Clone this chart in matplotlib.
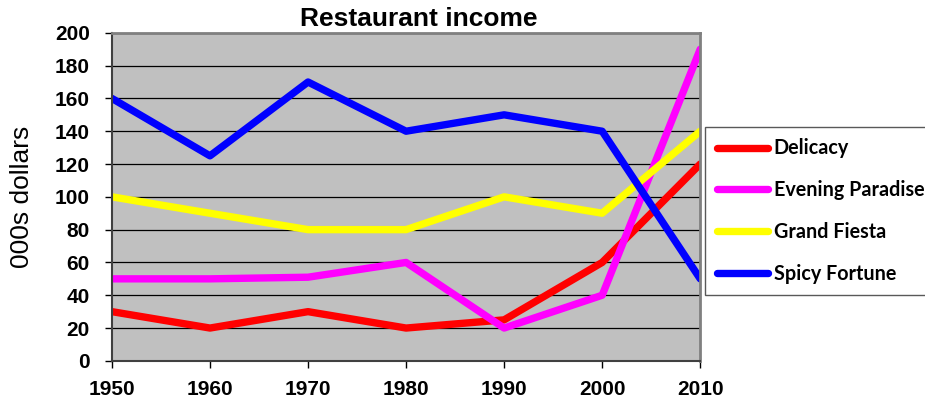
import matplotlib
matplotlib.use("Agg")
import matplotlib.pyplot as plt

years = [1950, 1960, 1970, 1980, 1990, 2000, 2010]
delicacy = [30, 20, 30, 20, 25, 60, 120]
evening_paradise = [50, 50, 51, 60, 20, 40, 190]
grand_fiesta = [100, 90, 80, 80, 100, 90, 140]
spicy_fortune = [160, 125, 170, 140, 150, 140, 50]

names = ["Delicacy", "Evening Paradise", "Grand Fiesta", "Spicy Fortune"]
series = [delicacy, evening_paradise, grand_fiesta, spicy_fortune]
colors = ["#FF0000", "#FF00FF", "#FFFF00", "#0000FF"]
yticks = list(range(0, 201, 20))

plt.rcParams['font.family'] = ['Liberation Sans', 'DejaVu Sans']

fig = plt.figure(figsize=(9.25, 4.05), dpi=100)
ax = fig.add_axes([0.121, 0.109, 0.636, 0.810])
ax.set_facecolor("#C0C0C0")

for name, vals, c in zip(names, series, colors):
    ax.plot(years, vals, color=c, lw=5.3, label=name,
            solid_capstyle='round', solid_joinstyle='round')

ax.set_xlim(1950, 2010)
ax.set_ylim(0, 200)
ax.set_xticks(years, labels=[str(y) for y in years],
              fontsize=15, fontweight='bold')
ax.set_yticks(yticks, labels=[str(v) for v in yticks],
              fontsize=15, fontweight='bold')
ax.yaxis.grid(True, color='black', lw=0.9)
ax.set_axisbelow(True)

# grey border on top/right, darker axis lines
for s in ['top', 'right']:
    ax.spines[s].set_color('#808080')
    ax.spines[s].set_linewidth(2)
for s in ['left', 'bottom']:
    ax.spines[s].set_color('#404040')
    ax.spines[s].set_linewidth(1.5)

ax.tick_params(axis='y', direction='out', length=5, width=1, pad=11)
ax.tick_params(axis='x', direction='out', length=5, width=1, pad=9)

ax.set_ylabel("000s dollars", fontsize=19)
ax.yaxis.set_label_coords(-0.132, 0.5)

fig.text(0.453, 0.952, "Restaurant income", fontsize=19, fontweight='bold',
         ha='center', va='center')

leg = ax.legend(loc='center left', bbox_to_anchor=(705 / 925, 0.479),
                bbox_transform=fig.transFigure, borderaxespad=0,
                frameon=True, fancybox=False, edgecolor='#303030',
                prop={'family': 'Lato', 'weight': 'bold', 'size': 14.2},
                handlelength=2.6, handletextpad=0.28, labelspacing=1.1,
                borderpad=0.6)
leg.get_frame().set_linewidth(1.0)

plt.savefig("out.png", dpi=100)
